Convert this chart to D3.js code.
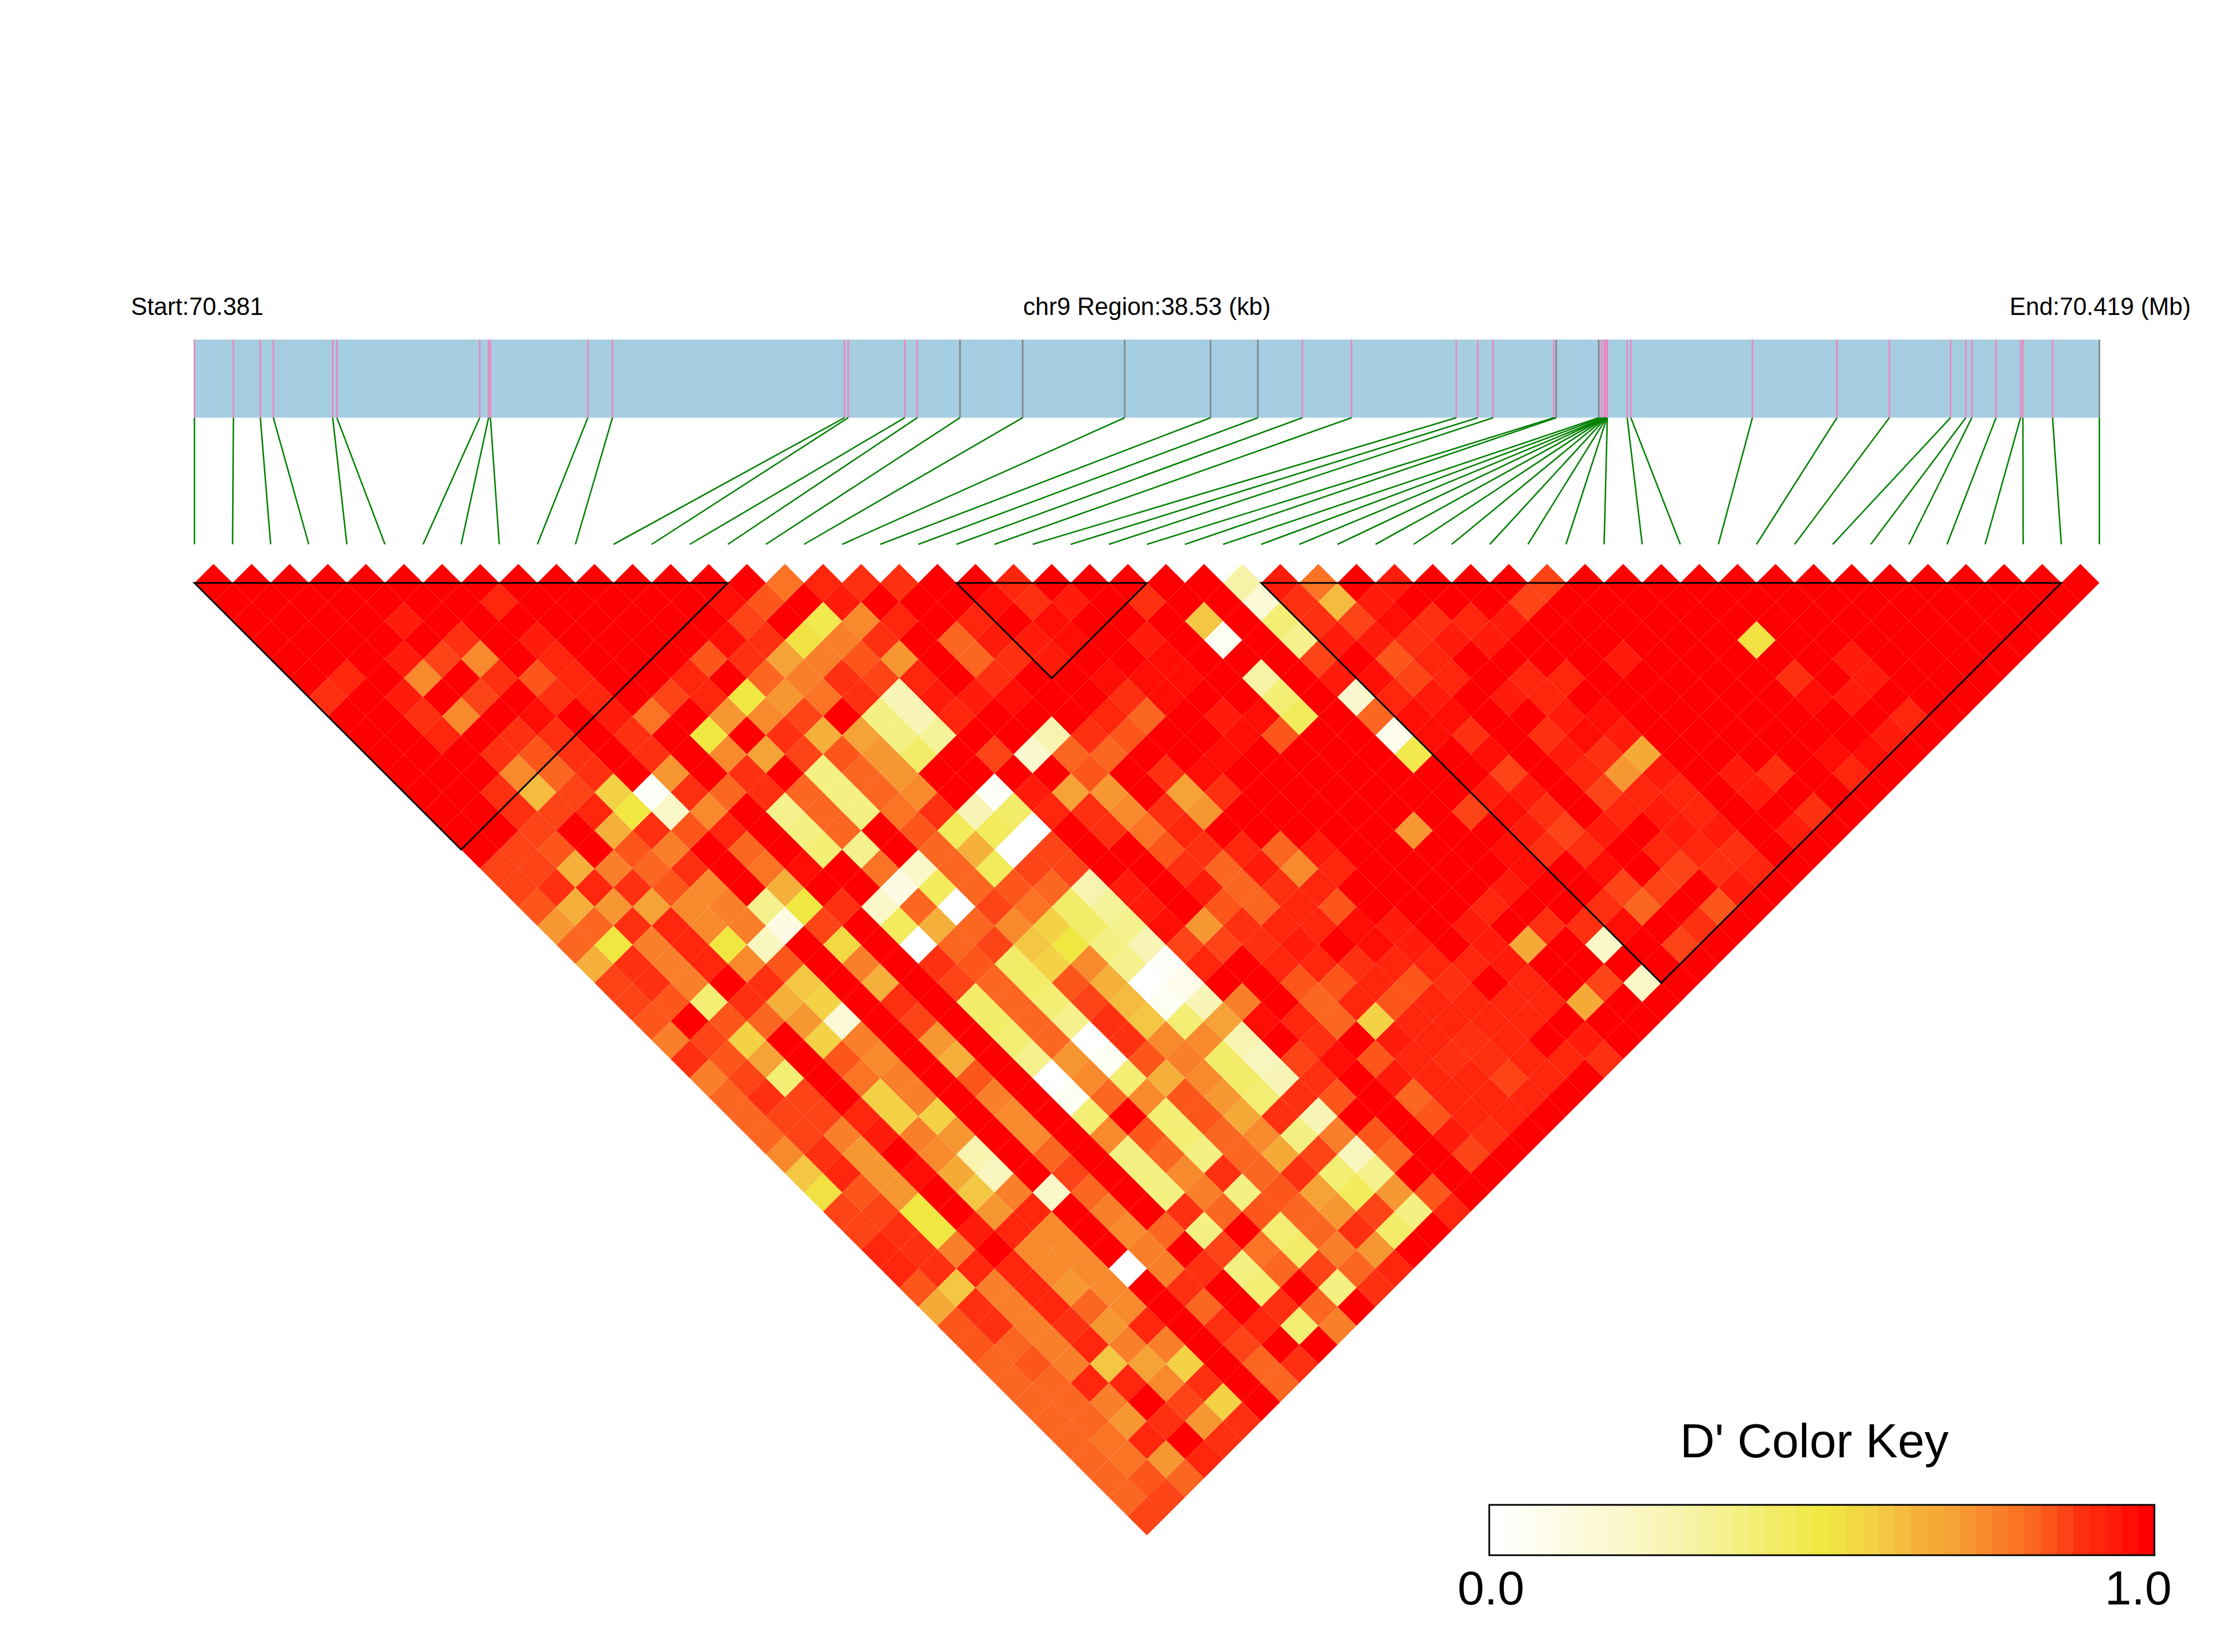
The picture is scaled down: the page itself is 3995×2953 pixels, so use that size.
<!DOCTYPE html>
<html>
<head>
<meta charset="utf-8">
<title>LD heatmap</title>
<script src="https://cdn.jsdelivr.net/npm/d3@7/dist/d3.min.js"></script>
<style>
html,body{margin:0;padding:0;background:#fff}
svg{display:block}
text{font-family:"Liberation Sans",Arial,sans-serif;fill:#000}
</style>
</head>
<body>
<svg id="chart" width="3995" height="2953"></svg>
<script>
// SNP positions, kb from the region start
const snpKb = [0,0.788,1.332,1.596,2.796,2.881,5.770,5.949,5.986,7.956,8.454,13.148,13.223,14.367,14.620,15.484,16.751,18.815,20.551,21.508,22.409,23.404,25.522,25.957,26.267,27.496,27.543,28.404,28.462,28.515,28.523,28.531,28.539,28.547,28.555,28.563,28.570,28.577,28.979,29.053,31.512,33.221,34.281,35.519,35.829,35.950,36.439,36.936,36.983,37.583,38.53];
const regionKb = 38.53;
const greySnps = [15,16,17,18,19,26,27,50];
const blocks = [[0,14],[20,25],[28,49]];
const titles = ["Start:70.381","chr9 Region:38.53 (kb)","End:70.419 (Mb)"];
const legendTitle = "D' Color Key";
const legendTicks = ["0.0","1.0"];
const colorStops = [0,.2,.3,.38,.44,.5,.58,.65,.7,.75,.81,.86,.9,.95,1];
const colorValues = ["#FFFFFF","#FAF7C8","#F7F3A6","#F4F07E","#F2EB60","#F0E840","#F3D045","#F4B03A","#F5A336","#F88A2D","#FB7025","#FC5019","#FF3010","#FF1C0A","#FF0000"];
// D' x 100, one array per separation between SNPs (top row of the triangle first)
const dPrimeRows = [
[100,100,100,100,100,100,100,100,100,100,100,100,100,100,100,80,92,88,90,100,100,92,100,100,100,100,100,30,95,80,100,95,100,100,100,87,100,100,100,100,100,100,100,100,100,100,100,100,100,100],
[100,100,100,100,100,100,100,92,100,100,100,100,100,97,85,100,95,100,100,100,97,90,95,100,90,100,100,15,90,62,95,100,100,100,87,100,100,100,100,100,100,100,100,100,100,100,100,100,100],
[100,100,100,100,95,100,100,100,100,100,100,100,100,87,100,48,75,92,100,92,98,97,100,100,100,60,100,40,90,87,96,90,92,95,100,100,100,100,100,100,100,100,100,100,100,100,100,100],
[98,100,100,100,100,90,100,95,100,100,100,100,97,90,52,78,90,100,82,95,95,96,100,95,100,5,100,35,95,95,90,95,93,100,100,100,100,100,100,52,100,100,100,100,100,100,100],
[100,100,100,95,87,75,100,92,100,100,100,85,90,70,78,85,72,100,82,90,95,98,100,96,98,100,100,87,98,84,92,100,100,100,100,95,100,100,100,100,100,95,100,100,100,100],
[100,92,100,75,100,90,83,92,100,100,92,100,82,78,90,87,92,100,88,100,100,97,96,96,100,30,100,93,96,86,92,100,91,92,100,100,100,100,100,88,100,93,100,100,100],
[88,100,93,100,87,100,90,92,100,87,91,50,72,80,88,25,93,93,97,100,100,90,96,98,100,40,100,18,91,93,100,95,91,100,100,100,100,100,100,96,95,100,100,100],
[100,100,88,75,98,97,100,95,79,100,72,74,86,100,38,25,91,100,100,100,91,82,100,93,96,45,100,82,97,97,100,100,93,97,100,100,100,100,100,100,100,92,100],
[100,100,91,100,88,90,100,90,100,50,100,90,65,70,38,34,100,100,28,88,85,100,100,97,85,100,100,8,96,90,100,90,97,93,100,100,100,100,100,100,93,100],
[100,100,100,88,85,90,98,90,100,74,70,87,85,72,42,100,87,18,82,82,98,100,97,100,100,100,100,48,98,97,100,95,90,68,100,100,100,100,96,96,100],
[100,100,100,75,82,90,100,72,100,90,100,37,81,71,100,100,100,100,83,100,90,96,100,100,100,100,100,100,100,87,100,92,73,93,100,93,88,100,92,100],
[100,100,90,63,87,57,3,90,81,90,81,38,82,74,100,3,93,70,73,98,70,90,100,100,100,100,100,100,93,93,100,86,91,92,100,95,100,100,100],
[100,100,90,87,91,50,20,74,100,35,81,38,80,90,25,43,92,90,75,88,71,100,98,100,100,100,100,87,96,89,100,92,93,92,100,100,88,100],
[100,100,87,100,65,89,85,92,100,38,81,100,84,44,45,0,100,89,80,92,98,100,100,100,100,73,100,100,93,86,93,100,93,93,100,94,100],
[100,86,84,100,85,78,100,81,100,40,35,100,81,65,0,87,100,100,83,90,92,81,95,100,100,100,100,97,90,90,100,91,92,90,100,100],
[86,87,64,77,81,89,100,80,96,100,80,20,82,44,86,87,100,100,88,82,93,75,91,100,100,100,100,97,100,96,100,87,90,92,100],
[87,90,92,89,85,75,100,65,100,100,12,44,81,84,82,28,93,100,95,82,89,91,100,100,100,100,95,100,100,87,86,100,93,100],
[84,64,73,70,75,78,36,50,90,20,81,0,87,79,42,34,95,100,84,81,92,85,100,100,100,92,100,100,90,82,100,85,100],
[73,82,90,92,75,77,10,87,100,44,64,81,75,58,42,35,97,72,88,92,92,97,93,100,93,100,90,88,96,100,88,100],
[82,49,78,92,49,24,100,55,100,0,81,86,60,50,38,25,87,87,90,93,100,96,95,100,93,68,100,20,100,87,100],
[65,89,78,92,75,85,100,77,100,90,83,42,58,74,36,3,91,100,92,92,89,92,92,92,94,100,100,100,100,100],
[86,89,78,100,89,60,100,64,100,87,81,42,85,64,0,8,100,100,84,84,91,85,90,100,92,100,87,20,100],
[86,85,40,89,64,57,100,89,100,42,81,40,86,62,5,25,76,100,82,92,84,91,92,91,92,66,100,100],
[85,100,83,81,71,15,100,87,100,43,81,35,90,60,40,70,97,92,82,58,92,92,92,92,100,100,100],
[77,86,58,100,58,78,100,73,100,40,81,0,90,74,74,27,100,90,100,93,92,90,92,100,93,100],
[90,85,70,100,85,75,100,64,100,35,71,5,85,77,42,24,87,97,84,92,90,89,92,92,90],
[77,86,40,100,80,77,100,84,100,0,74,40,65,74,43,25,90,100,94,92,92,86,92,100],
[82,89,87,100,58,76,100,76,100,5,82,74,85,71,40,89,85,100,81,92,92,92,100],
[81,86,87,92,58,58,100,74,100,40,100,40,85,67,89,25,100,100,85,92,92,100],
[82,86,77,93,77,71,100,75,100,75,83,40,81,74,39,78,85,100,94,90,100],
[75,89,73,100,75,28,100,81,100,37,81,38,81,66,87,24,82,100,86,100],
[60,92,73,96,66,22,100,87,100,38,74,90,81,90,40,36,100,100,100],
[53,85,71,100,60,77,20,82,100,38,76,38,83,70,44,73,83,100],
[86,87,50,100,73,91,100,77,100,89,81,84,81,72,87,38,92],
[86,89,50,93,91,75,100,74,81,38,100,40,81,89,42,100],
[91,90,77,100,74,74,100,77,100,86,79,42,78,72,100],
[92,90,92,92,75,75,0,76,90,38,81,87,81,91],
[85,60,77,92,71,74,100,89,100,40,100,38,88],
[66,90,77,92,81,75,100,81,100,88,81,100],
[85,89,77,89,72,92,100,89,92,40,76],
[85,81,76,92,76,77,100,87,100,100],
[81,85,77,60,70,57,100,81,89],
[81,81,92,92,74,89,100,81],
[81,81,76,100,87,58,100],
[81,81,72,89,71,88],
[81,80,92,100,90],
[81,80,72,91],
[81,83,82],
[82,86],
[86]
];

const svg = d3.select("#chart");
const nSnp = snpKb.length;
const left = 347.6, right = 3752.6;
const xGene = d3.scaleLinear().domain([0, regionKb]).range([left, right]);
const xIdx = d3.scaleLinear().domain([0, nSnp - 1]).range([left, right]);
const half = (right - left) / (nSnp - 1) / 2;
const yRow = d3.scaleLinear().domain([0, 50]).range([1008, 1008 + 50 * half]);
const bandTop = 607, bandBottom = 746.7, linkEnd = 973, gridTop = yRow(0) + half;

const smooth = d3.scaleLinear().domain(colorStops).range(colorValues).interpolate(d3.interpolateRgb);
const nBins = 41;
const binColors = d3.range(nBins).map(b => smooth(b / (nBins - 1)));
const color = d3.scaleQuantize().domain([0, 1]).range(binColors);

// gene band
svg.append("rect").attr("x", left).attr("y", bandTop).attr("width", right - left).attr("height", bandBottom - bandTop).attr("fill", "#A6CEE3");
const snps = snpKb.map((kb, i) => ({kb, i, grey: greySnps.includes(i)}));
svg.append("g").selectAll("line").data(snps).join("line")
  .attr("x1", d => xGene(d.kb)).attr("x2", d => xGene(d.kb))
  .attr("y1", bandTop).attr("y2", bandBottom)
  .attr("stroke", d => d.grey ? "#868A8E" : "#E78AC3").attr("stroke-width", 3);
svg.append("g").selectAll("line").data(snps).join("line")
  .attr("x1", d => xGene(d.kb)).attr("y1", bandBottom)
  .attr("x2", d => xIdx(d.i)).attr("y2", linkEnd)
  .attr("stroke", "#008000").attr("stroke-width", 2.6);

// heatmap cells
const cells = dPrimeRows.flatMap((row, n) => row.map((v, i) => ({n, i, j: i + n + 1, v: v / 100})));
svg.append("g").selectAll("path").data(cells).join("path")
  .attr("d", d => {
    const cx = (xIdx(d.i) + xIdx(d.j)) / 2, t = yRow(d.n);
    return `M${cx},${t}L${cx + half},${t + half}L${cx},${t + 2 * half}L${cx - half},${t + half}Z`;
  })
  .attr("fill", d => color(d.v));

// LD blocks
svg.append("g").selectAll("path").data(blocks).join("path")
  .attr("d", ([a, b]) => {
    const xa = xIdx(a), xb = xIdx(b);
    return `M${xa},${gridTop}L${xb},${gridTop}L${(xa + xb) / 2},${gridTop + (xb - xa) / 2}Z`;
  })
  .attr("fill", "none").attr("stroke", "#000").attr("stroke-width", 3);

// titles
svg.append("g").selectAll("text").data(titles).join("text")
  .attr("x", (d, i) => [234, 2050, 3916][i]).attr("y", 563)
  .attr("text-anchor", (d, i) => ["start", "middle", "end"][i])
  .attr("font-size", 43.5).text(d => d);

// colour key
const xKey = d3.scaleLinear().domain([0, nBins]).range([2662, 3851]);
svg.append("g").selectAll("rect").data(binColors).join("rect")
  .attr("x", (d, i) => xKey(i)).attr("y", 2690)
  .attr("width", (d, i) => xKey(i + 1) - xKey(i) + 0.3).attr("height", 90)
  .attr("fill", d => d);
svg.append("rect").attr("x", 2662).attr("y", 2690).attr("width", 1189).attr("height", 90)
  .attr("fill", "none").attr("stroke", "#000").attr("stroke-width", 3);
svg.append("text").attr("x", 3243).attr("y", 2605).attr("text-anchor", "middle").attr("font-size", 86).text(legendTitle);
svg.append("g").selectAll("text").data(legendTicks).join("text")
  .attr("x", (d, i) => [2665, 3822][i]).attr("y", 2868)
  .attr("text-anchor", "middle").attr("font-size", 86).text(d => d);
</script>
</body>
</html>
